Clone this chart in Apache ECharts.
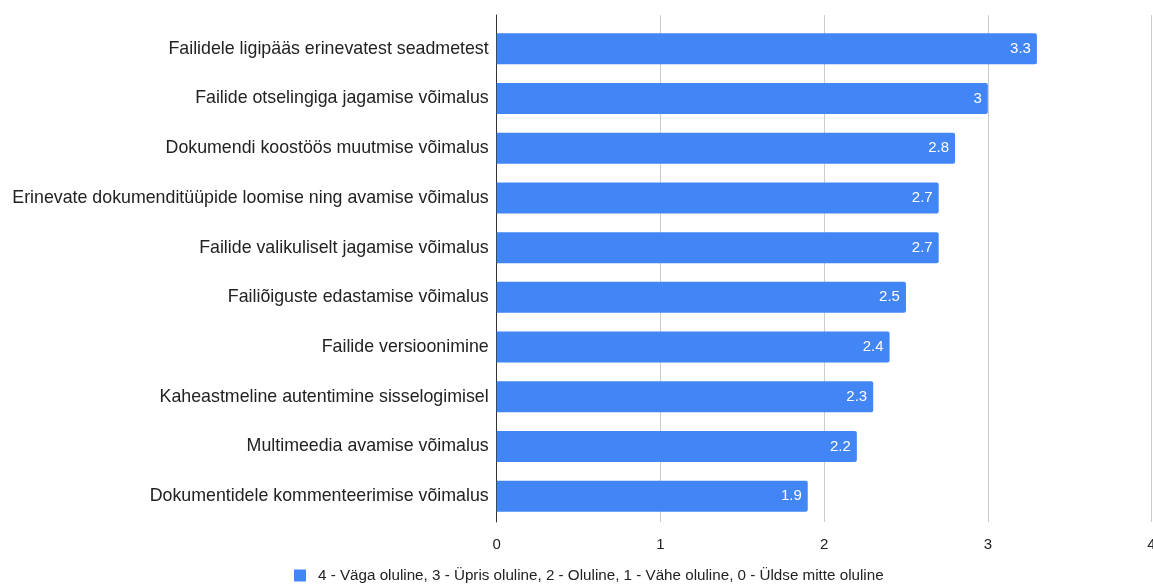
<!DOCTYPE html>
<html>
<head>
<meta charset="utf-8">
<style>
  html, body { margin: 0; padding: 0; background: #fff; }
  #chart { width: 1153px; height: 588px; }
</style>
<script src="https://cdn.jsdelivr.net/npm/echarts@6/dist/echarts.min.js"></script>
</head>
<body>
<div id="chart"></div>
<script>
// Features, top to bottom
const categories = [
  'Failidele ligipääs erinevatest seadmetest',
  'Failide otselingiga jagamise võimalus',
  'Dokumendi koostöös muutmise võimalus',
  'Erinevate dokumenditüüpide loomise ning avamise võimalus',
  'Failide valikuliselt jagamise võimalus',
  'Failiõiguste edastamise võimalus',
  'Failide versioonimine',
  'Kaheastmeline autentimine sisselogimisel',
  'Multimeedia avamise võimalus',
  'Dokumentidele kommenteerimise võimalus'
];
// Average importance score
const scores = [3.3, 3, 2.8, 2.7, 2.7, 2.5, 2.4, 2.3, 2.2, 1.9];
const seriesName = '4 - Väga oluline, 3 - Üpris oluline, 2 - Oluline, 1 - Vähe oluline, 0 - Üldse mitte oluline';
const xMin = 0, xMax = 4, xStep = 1;

const font = '"Liberation Sans", Arial, sans-serif';
const chart = echarts.init(document.getElementById('chart'));

chart.setOption({
  animation: false,
  textStyle: { fontFamily: font },
  grid: [
    // bars
    { left: 496.7, right: 1.5, top: 24, bottom: 67, outerBoundsMode: 'none', containLabel: false },
    // full-height gridlines and baseline
    { left: 496.7, right: 1.5, top: 15, bottom: 66, outerBoundsMode: 'none', containLabel: false }
  ],
  legend: {
    top: 568,
    left: 294,
    padding: 0,
    itemWidth: 12,
    itemHeight: 12,
    itemGap: 10,
    icon: 'rect',
    textStyle: { fontSize: 15.2, color: '#222', fontFamily: font, padding: [0, 0, 0, 7] },
    data: [seriesName]
  },
  xAxis: [
    {
      gridIndex: 0, type: 'value', min: xMin, max: xMax, interval: xStep,
      show: false
    },
    {
      gridIndex: 1, type: 'value', min: xMin, max: xMax, interval: xStep,
      axisLine: { show: false },
      axisTick: { show: false },
      axisLabel: { color: '#222', fontSize: 15, margin: 15, fontFamily: font },
      splitLine: { show: true, lineStyle: { color: '#cccccc', width: 1 } }
    }
  ],
  yAxis: [
    {
      gridIndex: 0, type: 'category', data: categories, inverse: true,
      axisLine: { show: false },
      axisTick: { show: false },
      axisLabel: { color: '#222', fontSize: 17.8, margin: 8, fontFamily: font },
      splitLine: { show: false }
    },
    {
      gridIndex: 1, type: 'value', min: 0, max: 1,
      axisLine: { show: true, lineStyle: { color: '#333', width: 1 } },
      axisTick: { show: false },
      axisLabel: { show: false },
      splitLine: { show: false }
    }
  ],
  series: [
    {
      name: seriesName,
      type: 'bar',
      xAxisIndex: 0,
      yAxisIndex: 0,
      data: scores,
      barWidth: 31,
      itemStyle: { color: '#4285f4', borderRadius: [0, 2, 2, 0] },
      label: {
        show: true,
        position: 'insideRight',
        distance: 6,
        color: '#fff',
        fontSize: 15,
        fontFamily: font,
        formatter: p => String(p.value)
      },
      z: 3
    }
  ]
});
</script>
</body>
</html>
